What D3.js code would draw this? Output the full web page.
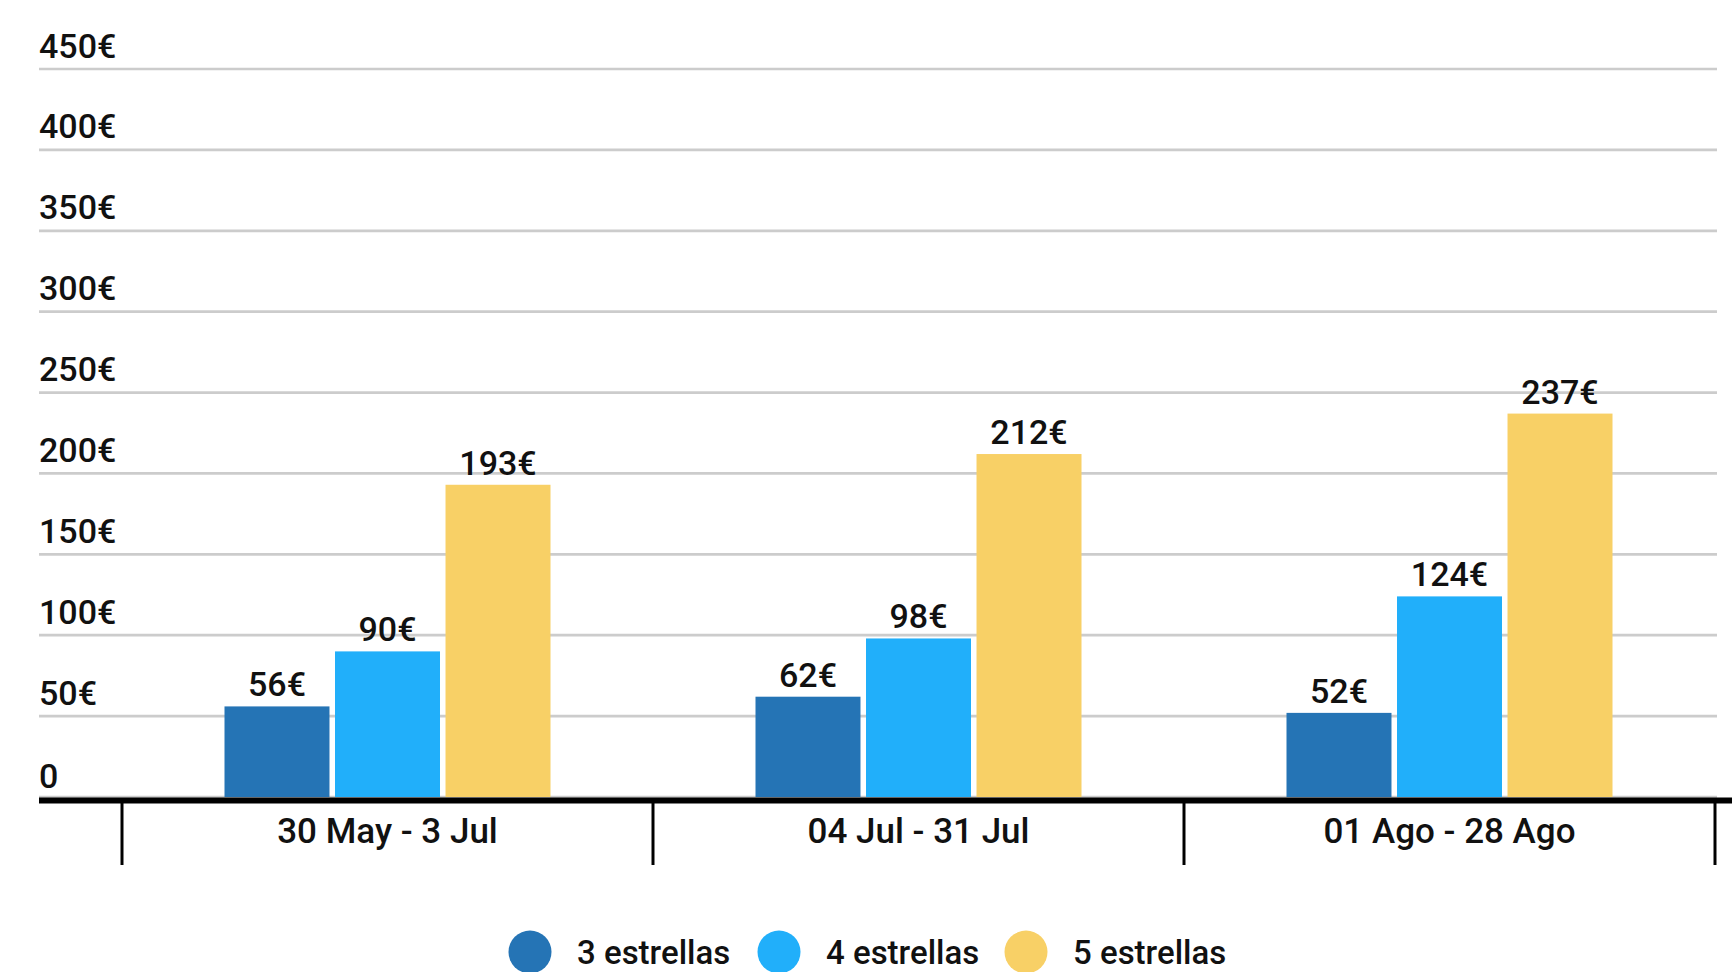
<!DOCTYPE html>
<html><head><meta charset="utf-8">
<script src="https://cdn.jsdelivr.net/npm/d3@7"></script>
<style>
html,body{margin:0;padding:0;background:#fff;overflow:hidden}
text{font-family:Roboto,"Noto Sans",sans-serif;font-weight:500;fill:#111}
</style></head><body>
<svg id="c" width="1732" height="972"></svg>
<script>
const categories = ["30 May - 3 Jul", "04 Jul - 31 Jul", "01 Ago - 28 Ago"];
const seriesNames = ["3 estrellas", "4 estrellas", "5 estrellas"];
const seriesColors = ["#2574b5", "#21affa", "#f8d066"];
const values3 = [56, 62, 52];
const values4 = [90, 98, 124];
const values5 = [193, 212, 237];
const yTicks = [0, 50, 100, 150, 200, 250, 300, 350, 400, 450];

const seriesValues = [values3, values4, values5];
const svg = d3.select("#c");
const left = 39, right = 1732, zeroY = 797;
const xCat = d3.scaleBand().domain(categories).range([122, 1715]).paddingInner(0).paddingOuter(0);
const y = d3.scaleLinear().domain([0, 450]).range([zeroY, 69]);
const groupW = 326;
const xSer = d3.scaleBand().domain(seriesNames).range([0, groupW]).paddingInner(0.05);

// gridlines
svg.append("g").selectAll("line").data(yTicks).join("line")
  .attr("x1", left).attr("x2", 1717)
  .attr("y1", d => y(d)).attr("y2", d => y(d))
  .attr("stroke", "#cccccc").attr("stroke-width", 2.7);

// y labels
svg.append("g").selectAll("text").data(yTicks).join("text")
  .attr("x", left).attr("y", d => y(d) - (d === 0 ? 9 : 11.5))
  .attr("font-size", 34)
  .text(d => d === 0 ? "0" : d + "€");

// bars
const groups = svg.append("g").selectAll("g").data(categories).join("g")
  .attr("transform", c => `translate(${xCat(c) + (xCat.bandwidth() - groupW) / 2},0)`);
groups.each(function(c, ci) {
  const g = d3.select(this);
  seriesNames.forEach((s, si) => {
    const v = seriesValues[si][ci];
    g.append("rect").attr("x", xSer(s)).attr("width", xSer.bandwidth())
      .attr("y", y(v)).attr("height", zeroY - y(v)).attr("fill", seriesColors[si]);
    g.append("text").attr("x", xSer(s) + xSer.bandwidth() / 2).attr("y", y(v) - 10)
      .attr("text-anchor", "middle").attr("font-size", 34).text(v + "€");
  });
});

// axis line
svg.append("line").attr("x1", left).attr("x2", right).attr("y1", 800.5).attr("y2", 800.5)
  .attr("stroke", "#000").attr("stroke-width", 6);
// category separators
const seps = categories.map(c => xCat(c)).concat([xCat(categories[categories.length - 1]) + xCat.bandwidth()]);
svg.append("g").selectAll("line").data(seps).join("line")
  .attr("x1", d => d).attr("x2", d => d).attr("y1", 800).attr("y2", 865)
  .attr("stroke", "#000").attr("stroke-width", 3);
// category labels
svg.append("g").selectAll("text").data(categories).join("text")
  .attr("x", c => xCat(c) + xCat.bandwidth() / 2).attr("y", 843)
  .attr("text-anchor", "middle").attr("font-size", 35).text(c => c);

// legend
const legX = [530, 779, 1026];
const leg = svg.append("g").selectAll("g").data(seriesNames).join("g")
  .attr("transform", (d, i) => `translate(${legX[i]},952)`);
leg.append("circle").attr("r", 21.5).attr("fill", (d, i) => seriesColors[i]);
leg.append("text").attr("x", 47).attr("y", 12).attr("font-size", 33).text(d => d);
</script>
</body></html>
